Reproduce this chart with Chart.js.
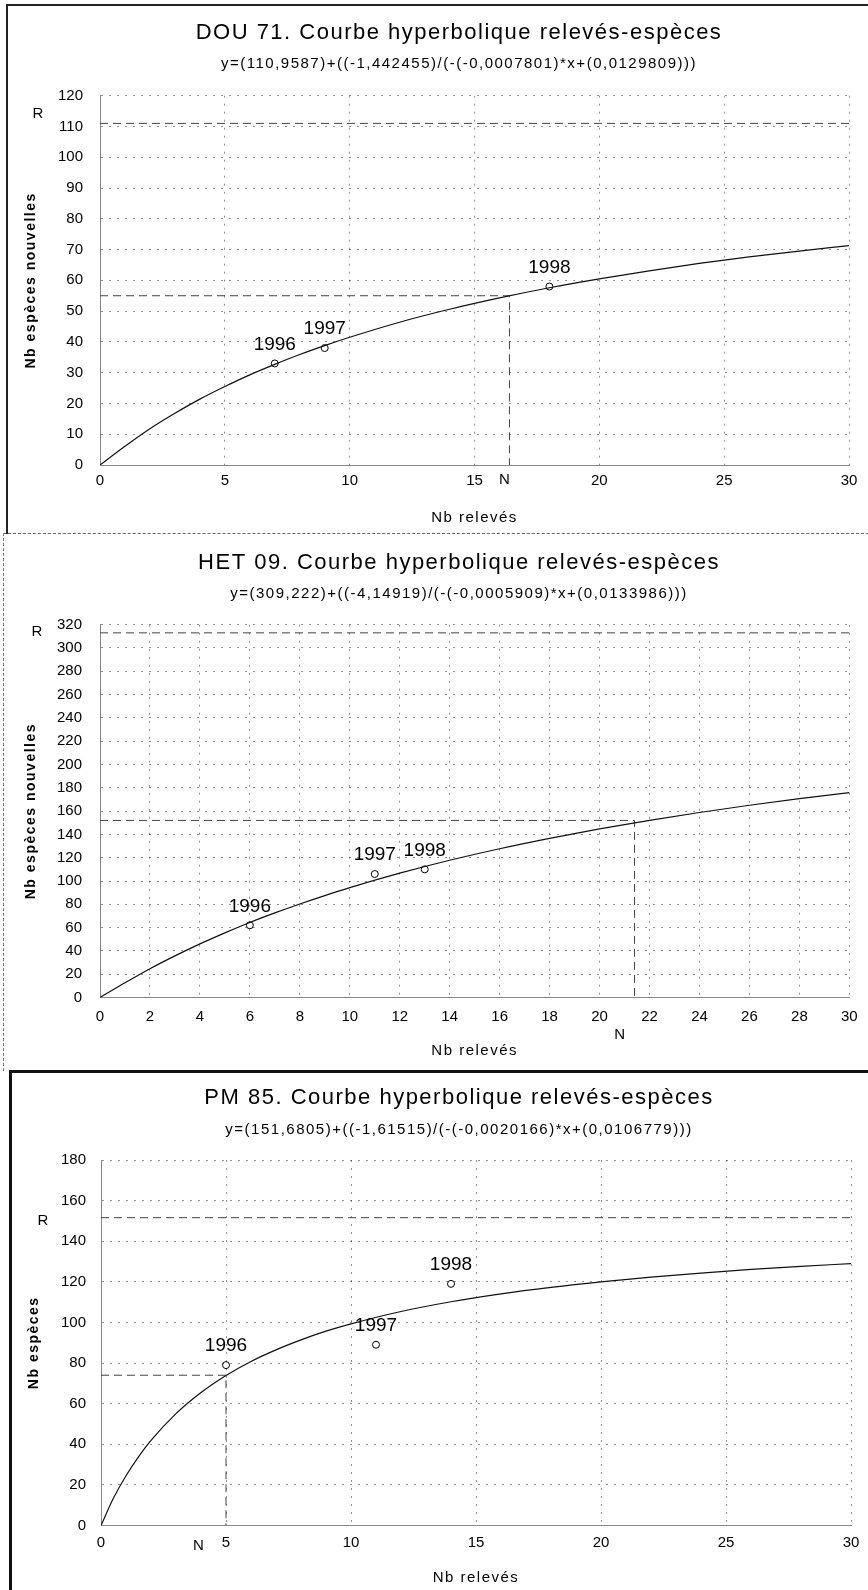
<!DOCTYPE html>
<html>
<head>
<meta charset="utf-8">
<script src="https://cdn.jsdelivr.net/npm/chart.js@4.4.1/dist/chart.umd.min.js"></script>
<style>
  body { margin: 0; background: #fff; }
  #page { position: relative; width: 868px; height: 1590px; overflow: hidden; }
  canvas { position: absolute; left: 0; }
  .frame { position: absolute; }
</style>
</head>
<body>
<div id="page">
  <div class="frame" style="left:6px;top:4px;width:900px;height:528px;border-left:2px solid #222;border-top:2px solid #222"></div>
  <div class="frame" style="left:3px;top:533px;width:900px;height:537px;border-left:1px dashed #777;border-top:1px dashed #666"></div>
  <div class="frame" style="left:9px;top:1070px;width:900px;height:600px;border-left:3px solid #111;border-top:3px solid #111"></div>
  <canvas id="c1" width="868" height="530" style="top:0"></canvas>
  <canvas id="c2" width="868" height="530" style="top:530px"></canvas>
  <canvas id="c3" width="868" height="530" style="top:1060px"></canvas>
</div>
<script>
const FONT = '"Liberation Sans", Arial, Helvetica, sans-serif';
const years = ['1996', '1997', '1998'];

// DOU 71
const dou71Title = 'DOU 71. Courbe hyperbolique relevés-espèces';
const dou71Eq = 'y=(110,9587)+((-1,442455)/(-(-0,0007801)*x+(0,0129809)))';
const dou71CurveX = [0, 1, 2, 3, 4, 5, 6, 7, 8, 9, 10, 12, 14, 16, 18, 20, 22, 24, 26, 28, 30];
const dou71CurveY = [0, 6.1, 11.8, 16.8, 21.4, 25.5, 29.3, 32.7, 35.9, 38.8, 41.5, 46.4, 50.6, 54.3, 57.6, 60.5, 63.1, 65.5, 67.6, 69.5, 71.3];
const dou71ObsX = [7, 9, 18];
const dou71ObsY = [33, 38, 58];
const dou71XTicks = [0, 5, 10, 15, 20, 25, 30];
const dou71YTicks = [0, 10, 20, 30, 40, 50, 60, 70, 80, 90, 100, 110, 120];
const dou71R = 111;
const dou71N = 16.4;
const dou71Half = 55;

// HET 09
const het09Title = 'HET 09. Courbe hyperbolique relevés-espèces';
const het09Eq = 'y=(309,222)+((-4,14919)/(-(-0,0005909)*x+(0,0133986)))';
const het09CurveX = [0, 1, 2, 3, 4, 5, 6, 7, 8, 9, 10, 12, 14, 16, 18, 20, 22, 24, 26, 28, 30];
const het09CurveY = [0, 12.6, 24.7, 35.7, 46, 55.5, 64.4, 72.6, 80.3, 87.5, 94.3, 106.7, 117.8, 127.7, 136.6, 144.7, 152, 158.8, 165, 170.7, 175.9];
const het09ObsX = [6, 11, 13];
const het09ObsY = [62, 106, 110];
const het09XTicks = [0, 2, 4, 6, 8, 10, 12, 14, 16, 18, 20, 22, 24, 26, 28, 30];
const het09YTicks = [0, 20, 40, 60, 80, 100, 120, 140, 160, 180, 200, 220, 240, 260, 280, 300, 320];
const het09R = 313;
const het09N = 21.4;
const het09Half = 152;

// PM 85
const pm85Title = 'PM 85. Courbe hyperbolique relevés-espèces';
const pm85Eq = 'y=(151,6805)+((-1,61515)/(-(-0,0020166)*x+(0,0106779)))';
const pm85CurveX = [0, 0.5, 1, 1.5, 2, 3, 4, 5, 6, 7, 8, 9, 10, 12, 14, 16, 18, 20, 22, 24, 26, 28, 30];
const pm85CurveY = [0, 13.5, 24.5, 33.8, 41.9, 55.1, 65.5, 73.9, 80.8, 86.5, 91.4, 95.7, 99.3, 105.4, 110.2, 114.1, 117.3, 120, 122.3, 124.3, 126.1, 127.6, 129];
const pm85ObsX = [5, 11, 14];
const pm85ObsY = [79, 89, 119];
const pm85XTicks = [0, 5, 10, 15, 20, 25, 30];
const pm85YTicks = [0, 20, 40, 60, 80, 100, 120, 140, 160, 180];
const pm85R = 151.6;
const pm85N = 5;
const pm85Half = 74;

// wide lettering for titles, ticks (drawn after datasets) stay tight
const spacing = {
    id: 'spacing',
    beforeDraw(chart) { chart.ctx.letterSpacing = '1.5px'; },
    beforeDatasetsDraw(chart) { chart.ctx.letterSpacing = '0px'; }
};

// year labels over the points, R and N markers
const marks = {
    id: 'marks',
    afterLayout(chart, args, opts) {
        // title + subtitle sit a bit right of the canvas centre
        chart.boxes.forEach(b => {
            if (b.position === 'top') { b.left = opts.titleLeft; b.right = chart.width; }
        });
    },
    afterDraw(chart, args, opts) {
        const ctx = chart.ctx;
        const xs = chart.scales.x, ys = chart.scales.y;
        const pts = chart.getDatasetMeta(1).data;
        ctx.save();
        ctx.letterSpacing = '0px';
        ctx.fillStyle = '#000';
        ctx.textAlign = 'center';
        ctx.textBaseline = 'middle';
        ctx.font = '19px ' + FONT;
        years.forEach((t, i) => ctx.fillText(t, pts[i].x, pts[i].y - 19));
        ctx.font = '15px ' + FONT;
        ctx.fillText('R', opts.rX, ys.getPixelForValue(opts.rLabel));
        ctx.fillText('N', xs.getPixelForValue(opts.nLabel), xs.top + opts.nDy);
        ctx.restore();
    }
};

function hyperChart(id, d, lay) {
    const curve = d.curveX.map((x, i) => ({ x: x, y: d.curveY[i] }));
    const obs = d.obsX.map((x, i) => ({ x: x, y: d.obsY[i] }));
    const xMax = d.xTicks[d.xTicks.length - 1];
    const yMax = d.yTicks[d.yTicks.length - 1];
    return new Chart(document.getElementById(id), {
        type: 'scatter',
        data: {
            datasets: [
                {
                    data: curve, showLine: true, borderColor: '#111', borderWidth: 1.2,
                    pointRadius: 0, cubicInterpolationMode: 'monotone'
                },
                {
                    data: obs, pointRadius: 3.5, pointBorderWidth: 1,
                    pointBorderColor: '#000', pointBackgroundColor: 'rgba(0,0,0,0)'
                },
                {
                    data: [{ x: 0, y: d.R }, { x: xMax, y: d.R }], showLine: true,
                    borderColor: '#444', borderWidth: 1, borderDash: [8, 5], pointRadius: 0
                },
                {
                    data: [{ x: 0, y: d.half }, { x: d.N, y: d.half }, { x: d.N, y: 0 }], showLine: true,
                    borderColor: '#444', borderWidth: 1, borderDash: [8, 5], pointRadius: 0
                }
            ]
        },
        options: {
            responsive: false,
            animation: false,
            events: [],
            layout: { padding: { top: 0, right: lay.right, bottom: 0, left: 0 } },
            scales: {
                x: {
                    type: 'linear', min: 0, max: xMax,
                    afterBuildTicks: s => { s.ticks = d.xTicks.map(v => ({ value: v })); },
                    afterFit: s => { s.height = lay.xAxisH; },
                    grid: { color: 'rgba(0,0,0,0.42)', drawTicks: false },
                    border: { color: '#888', dash: [2, 6] },
                    ticks: {
                        z: 1, padding: lay.xTickPad, color: '#000', maxRotation: 0, autoSkip: false,
                        font: { family: FONT, size: 15 }
                    },
                    title: {
                        display: true, text: 'Nb relevés', color: '#000',
                        font: { family: FONT, size: 15 },
                        padding: { top: 0, bottom: lay.xTitleB }
                    }
                },
                y: {
                    type: 'linear', min: 0, max: yMax,
                    afterBuildTicks: s => { s.ticks = d.yTicks.map(v => ({ value: v })); },
                    afterFit: s => { s.width = lay.yAxisW; },
                    grid: { color: 'rgba(0,0,0,0.42)', drawTicks: false },
                    border: { color: '#888', dash: [2, 6] },
                    ticks: {
                        z: 1, padding: lay.yTickPad, color: '#000', autoSkip: false,
                        font: { family: FONT, size: 15 }
                    },
                    title: {
                        display: true, text: d.yTitle, color: '#000',
                        font: { family: FONT, size: 14, weight: 'bold' },
                        padding: { top: lay.yTitleT, bottom: 0 }
                    }
                }
            },
            plugins: {
                legend: { display: false },
                tooltip: { enabled: false },
                title: {
                    display: true, text: d.title, color: '#000',
                    font: { family: FONT, size: 22, weight: 'normal' },
                    padding: { top: lay.titleT, bottom: 4 }
                },
                subtitle: {
                    display: true, text: d.eq, color: '#000',
                    font: { family: FONT, size: 15 },
                    padding: { top: lay.subT, bottom: lay.subB }
                },
                marks: { titleLeft: 50, rX: lay.rX, rLabel: lay.rLabel, nLabel: lay.nLabel, nDy: lay.nDy }
            }
        },
        plugins: [spacing, marks]
    });
}

hyperChart('c1', {
    title: dou71Title, eq: dou71Eq, yTitle: 'Nb espèces nouvelles',
    curveX: dou71CurveX, curveY: dou71CurveY, obsX: dou71ObsX, obsY: dou71ObsY,
    xTicks: dou71XTicks, yTicks: dou71YTicks, R: dou71R, N: dou71N, half: dou71Half
}, {
    titleT: 20, subT: 4.3, subB: 23, right: 19,
    xAxisH: 65, xTickPad: 7, xTitleB: 3,
    yAxisW: 100, yTickPad: 17, yTitleT: 22.6,
    rX: 38, rLabel: 114, nLabel: 16.2, nDy: 15
});

hyperChart('c2', {
    title: het09Title, eq: het09Eq, yTitle: 'Nb espèces nouvelles',
    curveX: het09CurveX, curveY: het09CurveY, obsX: het09ObsX, obsY: het09ObsY,
    xTicks: het09XTicks, yTicks: het09YTicks, R: het09R, N: het09N, half: het09Half
}, {
    titleT: 20, subT: 4.3, subB: 22, right: 18,
    xAxisH: 62.5, xTickPad: 10.3, xTitleB: 0.4,
    yAxisW: 100, yTickPad: 18, yTitleT: 22.6,
    rX: 37, rLabel: 314, nLabel: 20.8, nDy: 37.5
});

hyperChart('c3', {
    title: pm85Title, eq: pm85Eq, yTitle: 'Nb espèces',
    curveX: pm85CurveX, curveY: pm85CurveY, obsX: pm85ObsX, obsY: pm85ObsY,
    xTicks: pm85XTicks, yTicks: pm85YTicks, R: pm85R, N: pm85N, half: pm85Half
}, {
    titleT: 25, subT: 5.8, subB: 20.8, right: 17,
    xAxisH: 64.5, xTickPad: 8, xTitleB: 3,
    yAxisW: 101, yTickPad: 15, yTitleT: 25.6,
    rX: 43, rLabel: 149.8, nLabel: 3.9, nDy: 20.5
});
</script>
</body>
</html>
